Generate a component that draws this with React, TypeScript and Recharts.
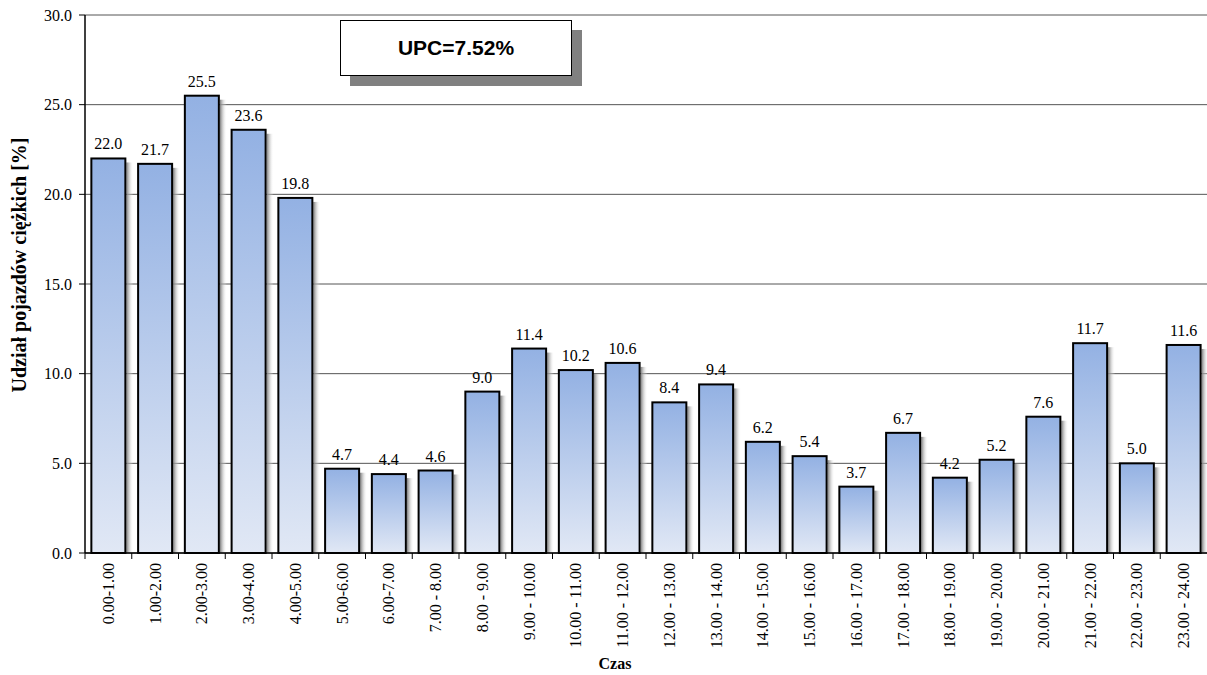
import { BarChart, Bar, XAxis, YAxis, CartesianGrid, LabelList, Label } from "recharts";

const periods = [
  "0.00-1.00", "1.00-2.00", "2.00-3.00", "3.00-4.00", "4.00-5.00", "5.00-6.00",
  "6.00-7.00", "7.00 - 8.00", "8.00 - 9.00", "9.00 - 10.00", "10.00 - 11.00", "11.00 - 12.00",
  "12.00 - 13.00", "13.00 - 14.00", "14.00 - 15.00", "15.00 - 16.00", "16.00 - 17.00", "17.00 - 18.00",
  "18.00 - 19.00", "19.00 - 20.00", "20.00 - 21.00", "21.00 - 22.00", "22.00 - 23.00", "23.00 - 24.00",
];

const heavyShare = [
  22.0, 21.7, 25.5, 23.6, 19.8, 4.7, 4.4, 4.6, 9.0, 11.4, 10.2, 10.6,
  8.4, 9.4, 6.2, 5.4, 3.7, 6.7, 4.2, 5.2, 7.6, 11.7, 5.0, 11.6,
];

const yTicks = [0, 5, 10, 15, 20, 25, 30];
const upcText = "UPC=7.52%";
const yTitle = "Udział pojazdów ciężkich [%]";
const xTitle = "Czas";

const data = periods.map((period, i) => ({ period, share: heavyShare[i] }));

const serif = "Liberation Serif, Times New Roman, serif";

function ShadedBar(props: any) {
  const { x, y, width, height } = props;
  if (!height || height <= 0) return null;
  return (
    <g>
      <rect x={x + width + 1} y={y + 4} width={7} height={height - 4} fill="url(#barShadow)" />
      <rect x={x} y={y} width={width} height={height} fill="url(#barFill)" stroke="#000" strokeWidth={2} />
    </g>
  );
}

function PeriodTick(props: any) {
  const { x, y, payload } = props;
  const half = payload && payload.offset ? payload.offset : 23.4;
  return (
    <g>
      <line x1={x - half} y1={y} x2={x - half} y2={y + 6} stroke="#000" strokeWidth={1} />
      <text
        transform={`translate(${x},${y + 10}) rotate(-90)`}
        textAnchor="end"
        dominantBaseline="central"
        style={{ fontFamily: serif, fontSize: 16 }}
        fill="#000"
      >
        {payload.value}
      </text>
    </g>
  );
}

export default function App() {
  return (
    <div style={{ position: "absolute", left: 0, top: 0, width: 1207, height: 675, background: "#fff" }}>
      <BarChart
        width={1207}
        height={675}
        data={data}
        margin={{ top: 15, right: 0, bottom: 0, left: 0 }}
        barCategoryGap="13.6%"
      >
        <defs>
          <linearGradient id="barFill" x1="0" y1="0" x2="0" y2="1">
            <stop offset="0%" stopColor="#93b1e3" />
            <stop offset="100%" stopColor="#e1e8f5" />
          </linearGradient>
          <linearGradient id="barShadow" x1="0" y1="0" x2="1" y2="0">
            <stop offset="0%" stopColor="#7a7a7a" />
            <stop offset="100%" stopColor="#ffffff" stopOpacity={0} />
          </linearGradient>
        </defs>
        <CartesianGrid vertical={false} stroke="#555" strokeWidth={1} />
        <XAxis
          dataKey="period"
          interval={0}
          height={122}
          tickLine={false}
          tickSize={0}
          tickMargin={0}
          axisLine={{ stroke: "#000", strokeWidth: 1.5 }}
          tick={<PeriodTick />}
        >
          <Label
            content={(p: any) => {
              const vb = p.viewBox || { x: 0, y: 0, width: 0, height: 0 };
              return (
                <text
                  x={vb.x + vb.width / 2 - 31}
                  y={vb.y + vb.height - 6}
                  textAnchor="middle"
                  style={{ fontFamily: serif, fontWeight: "bold", fontSize: 16 }}
                  fill="#000"
                >
                  {xTitle}
                </text>
              );
            }}
          />
        </XAxis>
        <YAxis
          width={85}
          domain={[0, 30]}
          ticks={yTicks}
          interval={0}
          tickFormatter={(v: number) => v.toFixed(1)}
          tickSize={6}
          tickMargin={7}
          tick={{ fontSize: 16, fill: "#000", style: { fontFamily: serif } }}
          tickLine={{ stroke: "#000" }}
          axisLine={{ stroke: "#000", strokeWidth: 1.5 }}
        >
          <Label
            content={(p: any) => {
              const vb = p.viewBox || { x: 0, y: 0, width: 0, height: 0 };
              const cy = vb.y + vb.height / 2 - 19;
              return (
                <text
                  transform={`translate(19,${cy}) rotate(-90)`}
                  textAnchor="middle"
                  dominantBaseline="central"
                  style={{ fontFamily: serif, fontWeight: "bold", fontSize: 20 }}
                  fill="#000"
                >
                  {yTitle}
                </text>
              );
            }}
          />
        </YAxis>
        <Bar dataKey="share" shape={<ShadedBar />} isAnimationActive={false}>
          <LabelList
            dataKey="share"
            position="top"
            offset={9}
            formatter={(v: any) => Number(v).toFixed(1)}
            style={{ fontFamily: serif, fontSize: 16, fill: "#000" }}
          />
        </Bar>
      </BarChart>
      <div
        style={{
          position: "absolute",
          left: 340,
          top: 20,
          width: 232,
          height: 56,
          boxSizing: "border-box",
          border: "1.5px solid #000",
          background: "#fff",
          boxShadow: "10px 10px 0 #808080",
          display: "flex",
          alignItems: "center",
          justifyContent: "center",
          fontFamily: "Liberation Sans, Arial, sans-serif",
          fontWeight: "bold",
          fontSize: 21,
          color: "#000",
        }}
      >
        {upcText}
      </div>
    </div>
  );
}
